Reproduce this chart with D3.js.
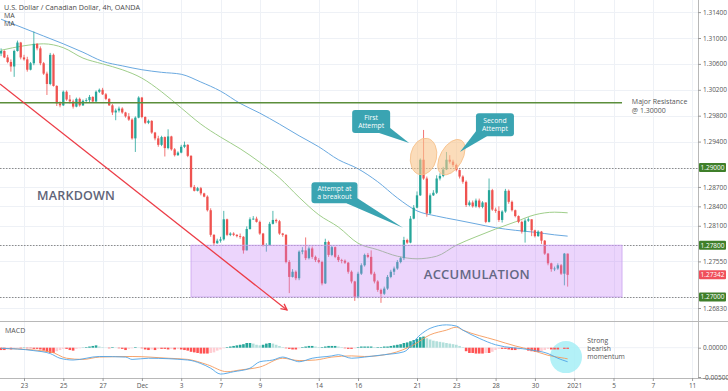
<!DOCTYPE html>
<html>
<head>
<meta charset="utf-8">
<script src="https://cdn.jsdelivr.net/npm/d3@7"></script>
<style>
  body { margin: 0; background: #fff; font-family: "Open Sans", sans-serif; }
  svg text { font-family: "Open Sans", sans-serif; }
</style>
</head>
<body>
<script>
// ---- data (USD/CAD 4h, OANDA) ----
const firstCandle = -7          // candle index of the first bar, 0 = Nov 23 00:00
const candlesPerDay = 6
const firstOpen = 1.3076

const closes = [
  1.3080,1.3070,1.3063,1.3056,1.3080,1.3093,1.3070,1.3067,1.3051,1.3061,
  1.3091,1.3084,1.3061,1.3045,1.3029,1.3074,1.3026,1.2999,1.2996,1.3017,
  1.3005,1.3002,1.2994,1.3006,1.2996,1.3003,1.3004,1.3009,1.3002,1.3017,
  1.3020,1.3013,1.3006,1.2996,1.2985,1.2988,1.2991,1.2985,1.2979,1.2974,
  1.2945,1.2977,1.3008,1.2978,1.2969,1.2972,1.2954,1.2945,1.2935,1.2947,
  1.2930,1.2948,1.2928,1.2919,1.2923,1.2932,1.2935,1.2918,1.2870,1.2864,
  1.2868,1.2860,1.2855,1.2834,1.2796,1.2783,1.2787,1.2789,1.2820,1.2796,
  1.2798,1.2796,1.2794,1.2793,1.2772,1.2805,1.2820,1.2821,1.2816,1.2798,
  1.2780,1.2780,1.2813,1.2819,1.2817,1.2798,1.2796,1.2754,1.2731,1.2739,
  1.2729,
  1.2770,1.2772,1.2760,1.2775,1.2762,1.2757,1.2754,1.2721,1.2785,1.2765,
  1.2777,1.2762,1.2757,1.2756,1.2753,1.2739,1.2724,1.2700,1.2736,1.2749,
  1.2765,1.2762,1.2736,1.2724,1.2711,1.2705,1.2713,1.2731,1.2739,1.2744,
  1.2754,1.2760,1.2788,1.2784,1.2821,1.2838,1.2857,1.2912,1.2883,1.2829,
  1.2857,1.2861,1.2883,1.2887,1.2897,1.2912,1.2909,1.2904,1.2896,1.2886,
  1.2878,1.2842,1.2846,1.2840,1.2849,1.2839,1.2846,1.2816,1.2865,1.2835,
  1.2833,1.2819,1.2832,1.2864,1.2847,1.2834,1.2825,1.2816,1.2801,1.2818,
  1.2820,1.2803,1.2794,1.2801,1.2787,1.2767,1.2752,1.2743,1.2744,1.2749,
  1.2736,1.2767,1.27342
]
const highs = [
  1.3084,1.3081,1.3074,1.3067,1.3082,1.3096,1.3094,1.3074,1.3071,1.3063,
  1.3110,1.3092,1.3087,1.3063,1.3048,1.3077,1.3076,1.3027,1.3002,1.3019,
  1.3019,1.3012,1.3005,1.3008,1.3008,1.3005,1.3007,1.3012,1.3010,1.3019,
  1.3022,1.3023,1.3015,1.3007,1.2998,1.2991,1.2994,1.2993,1.2986,1.2984,
  1.2976,1.2979,1.3010,1.3009,1.2979,1.2974,1.2973,1.2955,1.2949,1.2949,
  1.2948,1.2959,1.2949,1.2930,1.2925,1.2935,1.2940,1.2936,1.2919,1.2873,
  1.2870,1.2870,1.2861,1.2857,1.2837,1.2797,1.2790,1.2793,1.2833,1.2821,
  1.2800,1.2800,1.2797,1.2798,1.2794,1.2809,1.2823,1.2825,1.2824,1.2818,
  1.2799,1.2783,1.2816,1.2833,1.2821,1.2819,1.2799,1.2797,1.2757,1.2743,
  1.2741,
  1.2772,1.2777,1.2792,1.2778,1.2778,1.2764,1.2760,1.2756,1.2790,1.2787,
  1.2779,1.2778,1.2765,1.2759,1.2758,1.2754,1.2741,1.2725,1.2739,1.2752,
  1.2767,1.2768,1.2772,1.2739,1.2726,1.2713,1.2716,1.2734,1.2742,1.2747,
  1.2757,1.2762,1.2793,1.2790,1.2825,1.2842,1.2863,1.2914,1.2958,1.2886,
  1.2860,1.2865,1.2888,1.2891,1.2901,1.2924,1.2919,1.2912,1.2906,1.2897,
  1.2888,1.2880,1.2849,1.2849,1.2852,1.2852,1.2848,1.2846,1.2883,1.2867,
  1.2838,1.2840,1.2834,1.2867,1.2866,1.2849,1.2835,1.2826,1.2818,1.2821,
  1.2823,1.2820,1.2804,1.2803,1.2802,1.2788,1.2768,1.2753,1.2747,1.2752,
  1.2751,1.2768,1.2767
]
const lows = [
  1.3072,1.3069,1.3061,1.3048,1.3040,1.3079,1.3067,1.3065,1.3048,1.3050,
  1.3058,1.3081,1.3058,1.3043,1.3012,1.3027,1.3025,1.2995,1.2993,1.2995,
  1.3003,1.2999,1.2991,1.2993,1.2994,1.2995,1.3000,1.3001,1.3000,1.3001,
  1.3015,1.3012,1.3004,1.2995,1.2981,1.2973,1.2985,1.2983,1.2977,1.2972,
  1.2943,1.2924,1.2976,1.2976,1.2967,1.2967,1.2952,1.2942,1.2932,1.2933,
  1.2917,1.2928,1.2926,1.2917,1.2918,1.2922,1.2930,1.2916,1.2868,1.2863,
  1.2863,1.2857,1.2854,1.2832,1.2793,1.2780,1.2782,1.2784,1.2787,1.2794,
  1.2794,1.2794,1.2792,1.2790,1.2767,1.2772,1.2804,1.2819,1.2815,1.2796,
  1.2778,1.2770,1.2779,1.2812,1.2814,1.2796,1.2793,1.2752,1.2706,1.2730,
  1.2726,
  1.2726,1.2766,1.2757,1.2758,1.2759,1.2754,1.2752,1.2718,1.2720,1.2762,
  1.2763,1.2760,1.2754,1.2752,1.2751,1.2736,1.2721,1.2694,1.2698,1.2734,
  1.2747,1.2760,1.2734,1.2721,1.2708,1.2691,1.2703,1.2711,1.2729,1.2734,
  1.2742,1.2752,1.2757,1.2782,1.2783,1.2820,1.2837,1.2856,1.2881,1.2824,
  1.2828,1.2856,1.2859,1.2880,1.2885,1.2896,1.2906,1.2901,1.2894,1.2883,
  1.2875,1.2839,1.2840,1.2838,1.2838,1.2837,1.2837,1.2814,1.2815,1.2833,
  1.2830,1.2816,1.2815,1.2830,1.2844,1.2832,1.2823,1.2814,1.2798,1.2784,
  1.2816,1.2794,1.2792,1.2793,1.2782,1.2765,1.2749,1.2739,1.2740,1.2742,
  1.2734,1.2718,1.2716
]

// moving averages, sampled once a day
const maIdx = [-7,0,6,12,18,24,30,36,42,48,54,60,66,72,78,84,90,96,102,108,114,120,126,132,138,144,150,156,162,166]
const maSlow = [1.3129,1.3115,1.3103,1.3091,1.3078,1.3064,1.3057,1.3051,1.3047,1.3044,1.3032,1.3018,1.2999,1.2984,1.2967,
                1.2949,1.2932,1.2912,1.2898,1.2878,1.2853,1.2833,1.2825,1.2819,1.2813,1.2807,1.2803,1.2800,1.2796,1.2794]
const maFast = [1.3081,1.3088,1.3091,1.3085,1.3069,1.3060,1.3051,1.3038,1.3017,1.2992,1.2967,1.2947,1.2929,1.2908,1.2884,
                1.2854,1.2827,1.2808,1.2783,1.2773,1.2763,1.2759,1.2763,1.2780,1.2793,1.2805,1.2816,1.2827,1.2831,1.2830]

// MACD
const histogram = [
  -0.0004,-0.0004,-0.0003,-0.0003,-0.0002,-0.0001,-0.0001,0.00005,-0.0001,-0.0001,
  -0.0002,-0.0002,-0.0003,-0.0005,-0.0007,-0.0009,-0.0009,-0.0006,-0.0004,-0.0002,
  -0.0002,-0.0004,-0.0005,-0.0002,-0.0001,0.00003,0.0001,0.0002,0.0003,0.0004,
  0.0002,0.0001,0.00003,-0.0001,0.0001,0.00003,-0.0001,-0.0002,-0.0004,-0.0002,
  -0.0001,0.0001,0.00003,-0.0001,-0.0003,-0.0004,-0.0003,-0.0004,-0.0002,-0.0002,
  -0.0002,-0.0003,-0.0002,-0.0003,-0.0002,-0.0003,-0.0004,-0.0005,-0.0007,-0.0008,
  -0.0009,-0.0010,-0.0010,-0.0010,-0.0009,-0.0008,-0.0005,-0.0003,-0.0001,0.0001,
  0.0002,0.0003,0.0004,0.0005,0.0006,0.0008,0.0008,0.0007,0.0005,0.0004,
  0.0005,0.0007,0.0008,0.0007,0.0005,0.0003,0.0001,-0.0001,-0.0002,-0.0003,
  -0.0003,-0.0001,0.0001,0.0002,0.0003,0.0003,0.0002,0.0001,0.0001,0.0002,
  0.0003,0.0003,0.0003,0.0002,0.0001,-0.0001,-0.0002,-0.0002,-0.0001,0.0001,
  0.0002,0.0002,0.0002,0.0002,0.0001,0.0001,0.0001,0.0002,0.0002,0.0003,
  0.0004,0.0005,0.0006,0.0008,0.0009,0.0011,0.0013,0.0015,0.0018,0.0019,
  0.0016,0.0014,0.0012,0.0011,0.0010,0.0009,0.0008,0.0007,0.0006,0.0005,
  0.0003,0.0001,-0.0006,-0.0009,-0.0009,-0.0010,-0.0010,-0.0010,-0.0009,-0.0009,
  -0.0007,-0.0004,-0.0002,-0.0002,-0.0002,-0.0003,-0.0004,-0.0004,-0.0003,-0.0002,
  -0.0001,-0.0005,-0.0006,-0.0007,-0.0007,-0.0006,-0.0004,-0.0002,-0.0003,-0.0003,
  -0.0003,-0.0002,-0.0002,-0.0002
]
const macdIdx = [-7,3,8,11,15,23,31,33,38,50,54,57,60,64,69,72,76,79,82,84,88,94,96,100,104,110,116,121,124,129,132,134,139,144,155,160,163,166]
const macdLine = [-0.0001,-0.0005,-0.0010,-0.0018,-0.0021,-0.0015,-0.0016,-0.0020,-0.0018,-0.0021,-0.0027,-0.0035,-0.0045,-0.0041,
                  -0.0035,-0.0024,-0.0021,-0.0016,-0.0021,-0.0024,-0.0018,-0.0014,-0.0012,-0.0018,-0.0016,-0.0012,-0.0007,0.0022,
                  0.0033,0.0039,0.0037,0.0030,0.0016,0.0005,-0.0004,-0.0010,-0.0018,-0.0024]
const signalIdx = [-7,8,13,18,23,33,44,50,56,62,66,72,79,84,89,94,100,104,112,119,124,129,132,134,144,150,155,160,165,166]
const signalLine = [-0.0001,-0.0007,-0.0018,-0.0020,-0.0016,-0.0015,-0.0018,-0.0020,-0.0029,-0.0041,-0.0038,-0.0033,-0.0018,-0.0022,
                    -0.0021,-0.0016,-0.0014,-0.0015,-0.0010,0.0005,0.0022,0.0030,0.0035,0.0030,0.0013,0.0003,-0.0004,-0.0013,-0.0018,-0.0019]

// axes
const xTickDays = [0,2,4,6,8,10,12,15,17,20,22,24,26,28,30,32,34]
const xTickLabels = ["23","25","27","Dec","3","7","9","14","16","21","23","28","30","2021","5","7","11"]
const priceTicks = [1.314,1.310,1.306,1.302,1.298,1.294,1.287,1.284,1.281,1.2755,1.2683]
const levelLines = [1.29, 1.278, 1.27]
const lastPrice = 1.27342
const resistance = 1.30

// ---- layout ----
const W = 728, H = 391
const plotW = 698
const mainBottom = 321
const macdTop = 322, macdBottom = 378

const upCol = "#26a69a", downCol = "#ef5350"

const svg = d3.select("body").append("svg")
  .attr("width", W).attr("height", H)
  .style("display", "block")

svg.append("rect").attr("width", W).attr("height", H).attr("fill", "#fff")

const x = d3.scaleLinear().domain([-7.33, 205.8]).range([0, plotW])
const y = d3.scaleLinear().domain([1.27, 1.31]).range([297, 38])
const ym = d3.scaleLinear().domain([-0.005, 0]).range([377, 347.7])

const defs = svg.append("defs")
defs.append("clipPath").attr("id", "clipMain").append("rect").attr("width", plotW).attr("height", mainBottom)
defs.append("clipPath").attr("id", "clipMacd").append("rect").attr("y", macdTop).attr("width", plotW).attr("height", macdBottom - macdTop)

// grid
const grid = svg.append("g").attr("stroke", "#eef1f6").attr("stroke-width", 1)
xTickDays.forEach(d => {
  const gx = Math.round(x(d * candlesPerDay)) + 0.5
  grid.append("line").attr("x1", gx).attr("x2", gx).attr("y1", 0).attr("y2", macdBottom)
})
priceTicks.concat(levelLines).forEach(p => {
  const gy = Math.round(y(p)) + 0.5
  grid.append("line").attr("x1", 0).attr("x2", plotW).attr("y1", gy).attr("y2", gy)
})

const main = svg.append("g").attr("clip-path", "url(#clipMain)")

// moving averages
const maLine = d3.line().x(d => x(d[0])).y(d => y(d[1])).curve(d3.curveMonotoneX)
main.append("path").datum(maIdx.map((d, k) => [d, maSlow[k]]))
  .attr("d", maLine).attr("fill", "none").attr("stroke", "#6aa9e0").attr("stroke-width", 1)
main.append("path").datum(maIdx.map((d, k) => [d, maFast[k]]))
  .attr("d", maLine).attr("fill", "none").attr("stroke", "#9fce8a").attr("stroke-width", 1)

// level lines
levelLines.forEach(p => {
  main.append("line").attr("x1", 0).attr("x2", plotW)
    .attr("y1", Math.round(y(p)) + 0.5).attr("y2", Math.round(y(p)) + 0.5)
    .attr("stroke", "#8c8c8c").attr("stroke-dasharray", "1.5,1.5")
})

// candles
const candles = closes.map((c, k) => ({
  i: firstCandle + k,
  o: k ? closes[k - 1] : firstOpen,
  c: c, h: highs[k], l: lows[k]
}))
const cg = main.append("g")
cg.selectAll("line").data(candles).enter().append("line")
  .attr("x1", d => x(d.i)).attr("x2", d => x(d.i))
  .attr("y1", d => y(d.h)).attr("y2", d => y(d.l))
  .attr("stroke", d => d.c >= d.o ? upCol : downCol).attr("stroke-width", 0.8)
cg.selectAll("rect").data(candles).enter().append("rect")
  .attr("x", d => x(d.i) - 1.15).attr("width", 2.3)
  .attr("y", d => y(Math.max(d.o, d.c)))
  .attr("height", d => Math.max(0.8, Math.abs(y(d.o) - y(d.c))))
  .attr("fill", d => d.c >= d.o ? upCol : downCol)

// major resistance
const resEnd = 182.6
main.append("line").attr("x1", 0).attr("x2", x(resEnd))
  .attr("y1", y(resistance)).attr("y2", y(resistance))
  .attr("stroke", "#5b8e3b").attr("stroke-width", 1.3)

// accumulation zone
const zoneStart = 51
main.append("rect")
  .attr("x", x(zoneStart)).attr("width", x(resEnd) - x(zoneStart))
  .attr("y", y(1.278)).attr("height", y(1.27) - y(1.278))
  .attr("fill", "#c57cf5").attr("fill-opacity", 0.32)
  .attr("stroke", "#c9a2ee").attr("stroke-width", 0.8)

// markdown arrow
const arrFrom = [-7.33, 1.3029], arrTo = [80.3, 1.2680]
main.append("line")
  .attr("x1", x(arrFrom[0])).attr("y1", y(arrFrom[1]))
  .attr("x2", x(arrTo[0])).attr("y2", y(arrTo[1]))
  .attr("stroke", "#ec3c46").attr("stroke-width", 1.3)
{
  const ax = x(arrTo[0]), ay = y(arrTo[1])
  const ang = Math.atan2(ay - y(arrFrom[1]), ax - x(arrFrom[0]))
  const hl = 6, hw = 3
  const p = [[ax, ay],
    [ax - hl * Math.cos(ang) + hw * Math.sin(ang), ay - hl * Math.sin(ang) - hw * Math.cos(ang)],
    [ax - hl * Math.cos(ang) - hw * Math.sin(ang), ay - hl * Math.sin(ang) + hw * Math.cos(ang)]]
  main.append("polyline").attr("points", [p[1], p[0], p[2]].map(q => q.join(",")).join(" "))
    .attr("fill", "none").attr("stroke", "#ec3c46").attr("stroke-width", 1.3)
}

// highlight ellipses
const ovals = [
  { i: 122, p: 1.2917, rx: 13, ry: 18.5, rot: 12 },
  { i: 130.5, p: 1.2916, rx: 11, ry: 19.5, rot: 30 }
]
ovals.forEach(o => {
  main.append("ellipse")
    .attr("transform", `translate(${x(o.i)},${y(o.p)}) rotate(${o.rot})`)
    .attr("rx", o.rx).attr("ry", o.ry)
    .attr("fill", "#f9c58c").attr("fill-opacity", 0.6)
    .attr("stroke", "#f6c08a").attr("stroke-width", 0.8)
})

// big labels
main.append("text").attr("x", x(4)).attr("y", y(1.2850))
  .attr("font-size", 12.5).attr("font-weight", 600).attr("fill", "#5f6478")
  .attr("letter-spacing", 0.2).text("MARKDOWN")
main.append("text").attr("x", x(138.3)).attr("y", y(1.2728))
  .attr("text-anchor", "middle")
  .attr("font-size", 13).attr("font-weight", 600).attr("fill", "#646884")
  .attr("letter-spacing", 0.2).text("ACCUMULATION")

// callouts
const callouts = [
  { lines: ["First", "Attempt"], i: 106, p: 1.2971, w: 38, h: 23, tip: [117.6, 1.2938], side: "right" },
  { lines: ["Second", "Attempt"], i: 143.8, p: 1.2966, w: 38, h: 23, tip: [133.1, 1.2924], side: "left" },
  { lines: ["Attempt at", "a breakout"], i: 94.8, p: 1.2861, w: 46, h: 21, tip: [115.7, 1.2807], side: "right" }
]
callouts.forEach(c => {
  const cx = x(c.i), cy = y(c.p)
  const l = cx - c.w / 2, r = cx + c.w / 2, t = cy - c.h / 2, b = cy + c.h / 2
  const tx = x(c.tip[0]), ty = y(c.tip[1])
  const base = c.side === "right" ? [[r - 11, b], [r, b - 5]] : [[l, b - 5], [l + 11, b]]
  main.append("polygon").attr("points", [base[0], [tx, ty], base[1]].map(q => q.join(",")).join(" "))
    .attr("fill", "#3aa4b2")
  main.append("rect").attr("x", l).attr("y", t).attr("width", c.w).attr("height", c.h)
    .attr("rx", 3).attr("fill", "#3aa4b2")
  c.lines.forEach((s, k) => {
    main.append("text").attr("x", cx).attr("y", cy + (k - 0.5) * 8.6 + 2.4)
      .attr("text-anchor", "middle").attr("font-size", 6.8).attr("fill", "#fff").text(s)
  })
})

// resistance label
svg.append("text").attr("x", x(185.6)).attr("y", 103.5).attr("font-size", 7).attr("fill", "#555").text("Major Resistance")
svg.append("text").attr("x", x(185.6)).attr("y", 112.5).attr("font-size", 7).attr("fill", "#555").text("@ 1.30000")

// ---- MACD panel ----
const macd = svg.append("g").attr("clip-path", "url(#clipMacd)")
macd.append("line").attr("x1", 0).attr("x2", plotW).attr("y1", ym(0)).attr("y2", ym(0))
  .attr("stroke", "#eef1f6")

macd.append("ellipse").attr("cx", x(165.5)).attr("cy", ym(-0.0016))
  .attr("rx", 16).attr("ry", 16).attr("fill", "#a6eef6").attr("fill-opacity", 0.85)

const bars = histogram.map((v, k) => ({ i: firstCandle + k, v, prev: k ? histogram[k - 1] : v }))
macd.selectAll("rect.h").data(bars).enter().append("rect")
  .attr("x", d => x(d.i) - 1.3).attr("width", 2.6)
  .attr("y", d => ym(Math.max(0, d.v)))
  .attr("height", d => Math.abs(ym(d.v) - ym(0)))
  .attr("fill", d => d.v >= 0 ? (d.v >= d.prev ? "#26a69a" : "#b2dfdb") : (d.v <= d.prev ? "#ff5252" : "#ffcdd2"))

const mLine = d3.line().x(d => x(d[0])).y(d => ym(d[1])).curve(d3.curveMonotoneX)
macd.append("path").datum(signalIdx.map((d, k) => [d, signalLine[k]]))
  .attr("d", mLine).attr("fill", "none").attr("stroke", "#f59a5b").attr("stroke-width", 0.9)
macd.append("path").datum(macdIdx.map((d, k) => [d, macdLine[k]]))
  .attr("d", mLine).attr("fill", "none").attr("stroke", "#4ea4e6").attr("stroke-width", 0.9)

svg.append("text").attr("x", 5).attr("y", 333).attr("font-size", 7).attr("fill", "#555").text("MACD")
;["Strong", "bearish", "momentum"].forEach((s, k) => {
  svg.append("text").attr("x", x(172)).attr("y", 343 + k * 8.2).attr("font-size", 6.8).attr("fill", "#555").text(s)
})

// ---- frames and axes ----
svg.append("line").attr("x1", 0).attr("x2", W).attr("y1", mainBottom + 0.5).attr("y2", mainBottom + 0.5).attr("stroke", "#b8b8b8")
svg.append("line").attr("x1", 0).attr("x2", W).attr("y1", macdBottom + 0.5).attr("y2", macdBottom + 0.5).attr("stroke", "#b8b8b8")
svg.append("line").attr("x1", plotW + 0.5).attr("x2", plotW + 0.5).attr("y1", 0).attr("y2", macdBottom).attr("stroke", "#b8b8b8")

const fmt = d3.format(".5f")
const yAxis = svg.append("g").attr("transform", `translate(${plotW},0)`)
  .call(d3.axisRight(y).tickValues(priceTicks).tickFormat(fmt).tickSize(3).tickPadding(2))
const mAxis = svg.append("g").attr("transform", `translate(${plotW},0)`)
  .call(d3.axisRight(ym).tickValues([0, -0.005]).tickFormat(d => d === 0 ? "0.00000" : "-0.00500").tickSize(3).tickPadding(2))
const xAxis = svg.append("g").attr("transform", `translate(0,${macdBottom})`)
  .call(d3.axisBottom(x).tickValues(xTickDays.map(d => d * candlesPerDay)).tickFormat((d, k) => xTickLabels[k]).tickSize(3).tickPadding(2))
;[yAxis, mAxis, xAxis].forEach(a => {
  a.select(".domain").remove()
  a.selectAll("line").attr("stroke", "#9a9a9a")
  a.selectAll("text").attr("font-size", 6.5).attr("fill", "#555").style("font-family", "Open Sans, sans-serif")
})

// price flags on the right scale
const flags = levelLines.map(p => ({ p, col: "#3f7f2a" })).concat([{ p: lastPrice, col: "#f0505c" }])
flags.forEach(f => {
  const fy = y(f.p)
  svg.append("rect").attr("x", plotW + 1).attr("y", fy - 4.5).attr("width", 27).attr("height", 9)
    .attr("rx", 1).attr("fill", f.col)
  svg.append("text").attr("x", plotW + 14.5).attr("y", fy + 2.3).attr("text-anchor", "middle")
    .attr("font-size", 6.5).attr("fill", "#fff").text(fmt(f.p))
})

// header
svg.append("text").attr("x", 4).attr("y", 10).attr("font-size", 7.2).attr("fill", "#4a4a4a")
  .text("U.S. Dollar / Canadian Dollar, 4h, OANDA")
svg.append("text").attr("x", 4).attr("y", 18).attr("font-size", 7).attr("fill", "#4a4a4a").text("MA")
svg.append("text").attr("x", 4).attr("y", 26).attr("font-size", 7).attr("fill", "#4a4a4a").text("MA")
</script>
</body>
</html>
